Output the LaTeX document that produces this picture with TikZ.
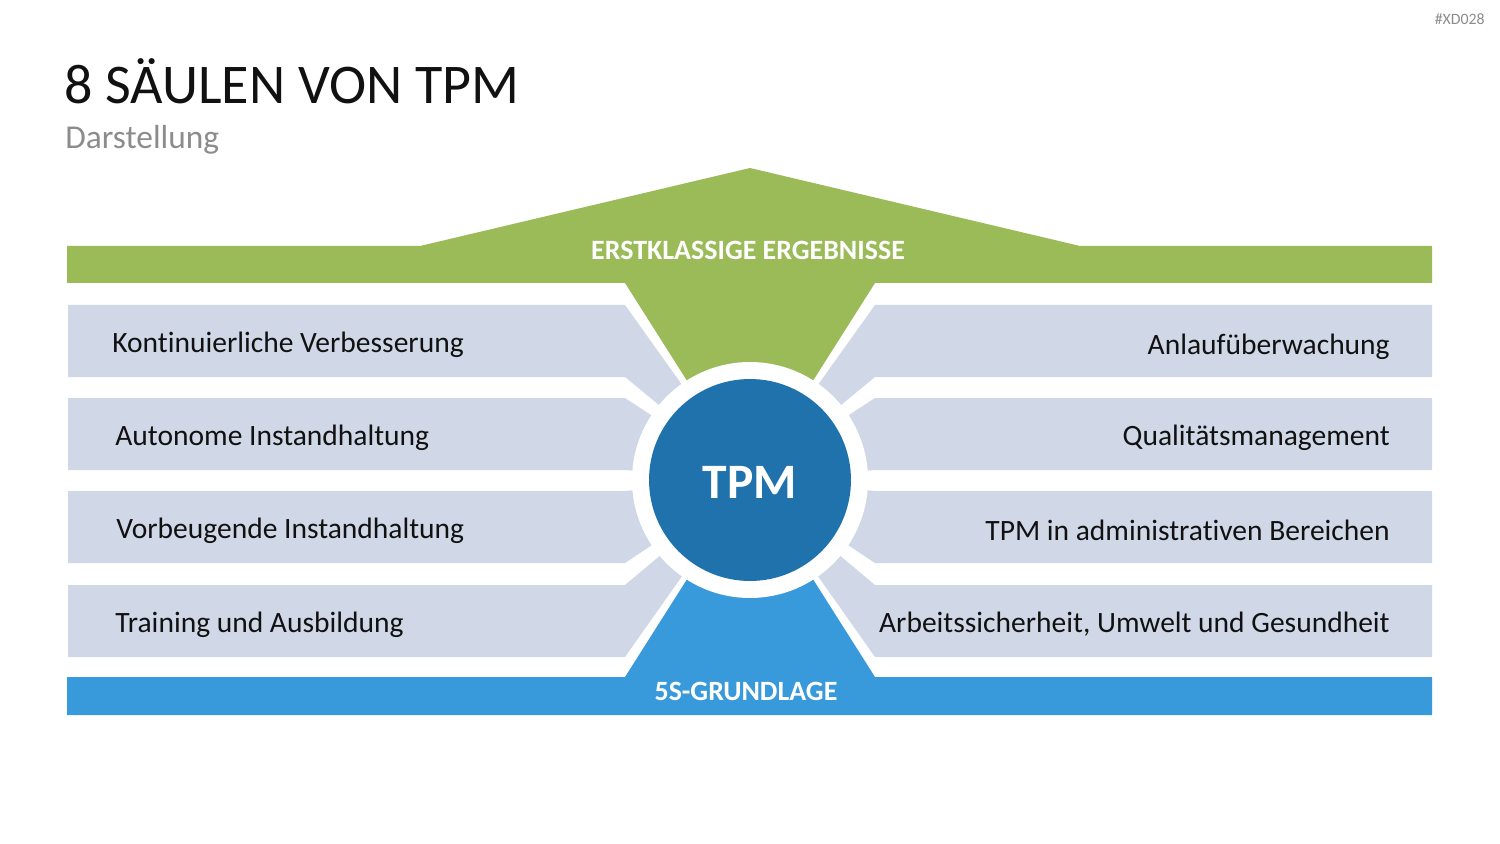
\documentclass[tikz,border=0pt]{standalone}
\usepackage{fontspec}
\setmainfont[Ligatures=NoCommon]{Carlito}
\usetikzlibrary{positioning}
\usepackage{xcolor}
\definecolor{resultgreen}{HTML}{9BBB59}
\definecolor{pillargray}{HTML}{D0D8E8}
\definecolor{coreblue}{HTML}{2072AD}
\definecolor{baseblue}{HTML}{3899DB}
\definecolor{subgray}{HTML}{8C8C8C}
\definecolor{jet}{HTML}{111111}

\begin{document}
\begin{tikzpicture}[x=0.02cm, y=-0.02cm]
  \useasboundingbox (0,0) rectangle (1500,844);
  % Left pillars (each runs into the centre)
  \fill[pillargray] (68,305) -- (625,305) -- (750,480) -- (625,377) -- (68,377) -- cycle;
  \fill[pillargray] (68,398) -- (625,398) -- (750,480) -- (625,470) -- (68,470) -- cycle;
  \fill[pillargray] (68,491) -- (625,491) -- (750,480) -- (625,563) -- (68,563) -- cycle;
  \fill[pillargray] (68,585) -- (625,585) -- (750,480) -- (625,657) -- (68,657) -- cycle;
  % Right pillars
  \fill[pillargray] (1432,305) -- (875,305) -- (750,480) -- (875,377) -- (1432,377) -- cycle;
  \fill[pillargray] (1432,398) -- (875,398) -- (750,480) -- (875,470) -- (1432,470) -- cycle;
  \fill[pillargray] (1432,491) -- (875,491) -- (750,480) -- (875,563) -- (1432,563) -- cycle;
  \fill[pillargray] (1432,585) -- (875,585) -- (750,480) -- (875,657) -- (1432,657) -- cycle;
  % Roof: results
  \fill[resultgreen] (67,283) -- (67,246) -- (420,246) -- (750,168) -- (1080,246)
        -- (1432,246) -- (1432,283) -- (875,283) -- (750,480) -- (625,283) -- cycle;
  % Base: 5S
  \fill[baseblue] (67,677) -- (625,677) -- (750,480) -- (875,677) -- (1432,677)
        -- (1432,715) -- (67,715) -- cycle;
  % Centre: white ring + TPM disc
  \fill[white] (750,480) circle (2.36cm);
  \fill[coreblue] (750,480) circle (2.02cm);
  % Title
  \node[font=\fontsize{31.9}{36}\selectfont, text=jet, anchor=base west, inner sep=0]
        (title) at (64,104) {8 SÄULEN VON TPM};
  \node[font=\fontsize{19}{22}\selectfont, text=subgray, anchor=base west, inner sep=0]
        (subtitle) at (65,149) {Darstellung};
  \node[font=\fontsize{9}{10}\selectfont, text=subgray, anchor=east, inner sep=0]
        (tag) at (1485,19) {\#XD028};
  % Inside labels
  \node[font=\fontsize{15.9}{18}\selectfont\bfseries, text=white, inner sep=0]
        (results) at (748,250) {ERSTKLASSIGE ERGEBNISSE};
  \node[font=\fontsize{15.9}{18}\selectfont\bfseries, text=white, inner sep=0]
        (fives) at (746,691) {5S-GRUNDLAGE};
  \node[font=\fontsize{28.2}{32}\selectfont\bfseries, text=white, inner sep=0]
        (tpm) at (750,482) {TPM};
  % Left pillar texts
  \node[font=\fontsize{16.8}{20}\selectfont, text=jet, anchor=west, inner sep=0]
        (kv) at (112,345) {Kontinuierliche Verbesserung};
  \node[font=\fontsize{16.8}{20}\selectfont, text=jet, anchor=west, inner sep=0]
        (ai) at (115,438) {Autonome Instandhaltung};
  \node[font=\fontsize{16.8}{20}\selectfont, text=jet, anchor=west, inner sep=0]
        (vi) at (116,531) {Vorbeugende Instandhaltung};
  \node[font=\fontsize{16.8}{20}\selectfont, text=jet, anchor=west, inner sep=0]
        (ta) at (115,625) {Training und Ausbildung};
  % Right pillar texts
  \node[font=\fontsize{16.8}{20}\selectfont, text=jet, anchor=east, inner sep=0]
        (au) at (1390,347) {Anlaufüberwachung};
  \node[font=\fontsize{16.8}{20}\selectfont, text=jet, anchor=east, inner sep=0]
        (qm) at (1390,438) {Qualitätsmanagement};
  \node[font=\fontsize{16.8}{20}\selectfont, text=jet, anchor=east, inner sep=0]
        (ad) at (1390,530) {TPM in administrativen Bereichen};
  \node[font=\fontsize{16.8}{20}\selectfont, text=jet, anchor=east, inner sep=0]
        (as) at (1390,624) {Arbeitssicherheit, Umwelt und Gesundheit};
\end{tikzpicture}
\end{document}
